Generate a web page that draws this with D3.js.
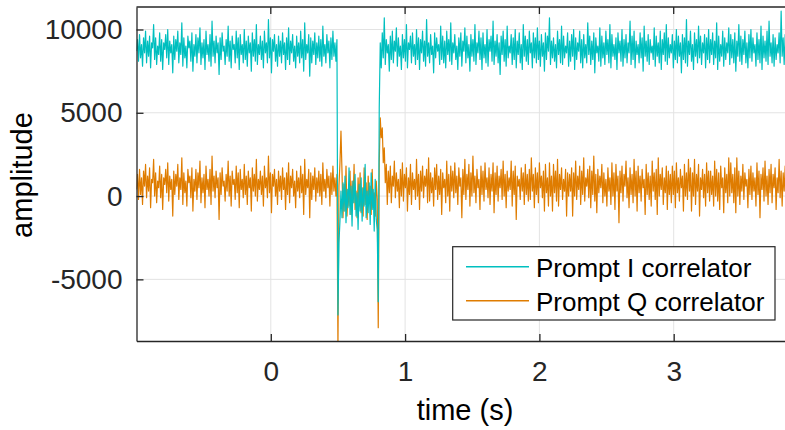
<!DOCTYPE html>
<html><head><meta charset="utf-8">
<script src="https://cdn.jsdelivr.net/npm/d3@7"></script>
<style>body{margin:0;background:#fff;}svg{display:block;}</style>
</head><body>
<svg id="c" width="785" height="430"></svg>
<script>
// sampled signal: start time and sample interval (s)
const startTime = -1;
const sampleInterval = 0.0075;
const seriesNames = ["Prompt I correlator", "Prompt Q correlator"];
const seriesColors = ["#00BFBF", "#DF7C00"];
const xTicks = [0, 1, 2, 3];
const yTicks = [-5000, 0, 5000, 10000];
const yTickLabels = ["-5000", "0", "5000", "10000"];

const promptI = [
 8700,9400,8100,9700,8300,9100,7800,9500,8600,9900,8000,9300,8400,9600,7700,9200,8900,10300,8200,9500,
 7900,9000,8500,9800,8100,9400,7600,9200,8800,9700,8300,10000,7900,9300,8600,9100,7400,9600,8200,9400,
 8700,9900,8000,9200,8500,10400,7800,9500,8300,9000,7700,9600,8900,9300,8100,9800,7500,9100,8400,9700,
 8000,9500,8600,10100,7900,9200,8300,9400,7600,9900,8500,9100,8100,9700,7800,10500,8400,9300,8000,9600,
 8600,9200,7300,9500,8200,9800,8700,9000,7900,9400,8400,10200,8100,9300,7700,9600,8800,9100,8000,9900,
 8300,9500,7600,9700,8500,9100,8000,10000,8200,9300,7800,9600,8600,9200,7500,9800,8400,9400,8100,10300,
 7900,9100,8500,9600,8200,9300,7700,9900,8600,9200,8000,10600,8300,9500,7400,9400,8700,9700,8100,9100,
 7800,9600,8400,9300,8000,9800,8500,9200,7600,9500,8200,10100,7900,9300,8600,9700,8100,9000,7700,9600,
 8400,9200,8000,9900,8300,9400,7500,10400,8200,9100,8600,9700,7200,9500,8000,9300,8500,9800,7900,9200,
 8300,9600,8100,9400,7800,10200,8400,9100,8000,9700,8600,9300,7700,9500,8200,9900,8400,9200,8100,9400,
 -7140,
 -2800,-1500,300,-1300,800,-900,1200,-1600,400,-700,1700,-1100,600,-1800,900,-400,1300,-1200,200,-2000,
 700,-900,1100,-1500,500,-600,1900,-1300,300,-1000,800,-1700,1400,-800,400,-2100,1000,-1400,-2000,
 -6340,
 5300,
 9200,7700,9800,8300,10700,7900,9400,8600,9100,7500,9600,8200,9900,8000,9300,8700,10100,7800,9500,8400,
 9000,7600,9700,8300,9400,8100,10300,7700,9200,8800,9600,8000,9800,8400,9100,7900,10000,8200,9500,7600,
 9400,8600,9900,8100,9300,7800,10600,8400,9200,8000,9700,8500,9000,7400,9800,8300,9500,8700,9100,7900,
 10200,8200,9600,8000,9300,7700,9900,8500,9400,8100,10400,7900,9200,8600,9700,8200,9000,7600,9500,8400,
 9800,7800,9300,8700,10100,8000,9600,8300,9100,7500,9700,8400,9400,8100,10300,7900,9200,8600,9900,8200,
 9500,7600,9800,8300,9100,8000,10000,7800,9400,8700,9600,8100,10500,7900,9300,8400,9700,8000,9200,7300,
 9600,8500,9900,8100,9400,7800,10200,8300,9000,8600,9700,7900,9500,8200,10000,7700,9300,8500,9800,8000,
 9100,7600,10300,8400,9600,8100,9400,7900,9900,8600,9200,7700,9800,8300,9500,8000,10100,8200,9300,7800,
 9700,8400,9200,7500,9800,8200,9600,8700,10700,7900,9300,8300,9500,8100,9100,7700,9900,8500,9400,8000,
 10200,7900,9600,8300,9000,8600,9800,7800,9300,8100,9700,8400,10000,7600,9500,8200,9200,8700,9900,8000,
 9400,7700,9700,8300,9100,8000,10400,8500,9600,7900,9300,8200,9800,7400,9500,8600,9000,8100,10100,7800,
 9600,8300,9200,7900,9900,8500,9400,8000,10300,7700,9700,8400,9100,8200,9500,7600,9800,8600,9300,8100,
 10000,7800,9400,8300,9700,8000,9200,8600,10500,7900,9600,8200,9900,7700,9300,8500,9100,8000,9800,8300,
 9500,7500,10200,8400,9300,8100,9700,7900,9400,8600,9000,8200,10100,7800,9600,8400,9200,8000,9900,7600,
 9400,8500,9800,8100,10300,7900,9500,8300,9100,8600,9700,7700,9300,8200,10000,8000,9600,8400,9200,7400,
 9700,8200,9500,8000,10600,7800,9300,8500,9900,8100,9100,7600,9800,8400,9400,8000,10200,8300,9600,7900,
 9200,8600,9700,7700,9500,8200,10000,8000,9400,8500,9800,7900,9300,8300,10400,7600,9600,8100,9100,8400,
 9900,7800,9500,8200,9200,8600,10100,7900,9700,8300,9400,8000,9800,7500,9300,8400,10300,8100,9600,7900,
 9400,8500,9900,8000,9200,7700,9700,8300,10000,8100,9500,8600,9100,7800,9800,8200,9400,8000,10200,7600,
 9600,8300,9300,8100,9900,7900,10500,8400,9200,8000,9700,7800,9500,8200,9100,8600,9800,8000,11100,8400,
 9500,7900,9700,8300,9300,8100
];

const promptQ = [
 400,1300,-200,1600,100,1100,-500,1500,600,1900,-100,1200,300,1700,-700,1000,800,2200,0,1400,
 -400,900,500,1800,-100,1300,-800,1100,700,1600,200,2000,-300,1200,400,1000,-1200,1500,100,1300,
 600,1900,-200,1100,400,2300,-500,1400,200,900,-600,1600,800,1200,-100,1700,-900,1000,300,1600,
 -200,1400,500,2100,-400,1100,200,1300,-700,1800,400,1000,0,1600,-500,2400,300,1200,-100,1500,
 500,1100,-1400,1400,100,1700,600,900,-300,1300,300,2100,0,1200,-600,1500,700,1000,-200,1800,
 200,1400,-700,1600,400,1000,-100,1900,100,1200,-500,1500,500,1100,-900,1700,300,1300,0,2200,
 -300,1000,400,1500,100,1200,-600,1800,500,1100,-100,2400,200,1400,-1000,1300,600,1600,0,1000,
 -500,1500,300,1200,-200,1700,400,1100,-800,1400,100,2000,-400,1200,500,1600,0,900,-700,1500,
 300,1100,-100,1800,200,1300,-1100,2200,100,1000,500,1600,-1300,1400,-200,1200,400,1700,-300,1100,
 200,1500,0,1300,-500,2000,300,1000,-100,1600,500,1200,-600,1400,100,1800,300,1100,0,1300,
 -9200,
 600,2000,3900,1500,-1300,700,-900,1800,-1200,400,-600,1500,-1100,900,-400,1900,-800,300,-1300,1100,
 -600,1400,-1000,500,-1200,1700,-500,800,-1400,1200,-300,600,-1100,1600,-700,200,-1200,900,-200,
 -7900,
 2000,4700,3500,4100,2000,2900,800,1900,-500,
 1500,200,1800,-400,1200,600,2100,-100,1400,300,1000,-700,1600,0,2000,-300,1300,500,1700,-900,
 1100,100,1900,-500,1400,400,1000,-200,2200,0,1300,-800,1500,300,1800,-100,1200,600,1600,-400,
 2300,-300,1400,200,1100,-600,1700,400,1900,-200,1200,100,1600,-1100,1400,500,1000,-400,2100,0,
 1300,-900,1800,300,1500,-100,2000,200,1200,-500,1700,600,1100,-1300,1600,100,2200,-200,1300,400,
 1900,-600,1400,0,2400,200,1200,-400,1600,500,1000,-800,1800,100,1500,-300,2000,400,1100,-100,
 1700,-500,1300,300,2000,-1000,1400,100,1800,-300,1200,500,1600,-200,2100,0,1300,-700,1500,300,
 1100,400,2100,-600,1500,100,1800,-1400,1200,600,1000,-200,1700,300,1400,-500,1900,100,1300,-300,
 1600,-200,2300,300,1300,-700,1700,100,1400,-400,2000,500,1200,-100,1500,-900,1900,200,1100,-600,
 2000,0,1200,-900,1900,200,1500,-300,2200,-600,1300,400,1700,-200,1000,300,1600,-1200,1400,0,
 1300,300,1700,-1200,1400,0,2100,-200,1200,400,1800,-500,1500,100,2300,-300,1100,600,1600,-100,
 1800,-700,1500,100,2400,-300,1300,-1000,1600,200,1200,500,1900,-400,1400,0,1000,-600,1700,300,
 1100,-500,2000,0,1400,-800,1900,300,1200,-1600,1500,200,1800,-300,1300,600,2100,-100,1100,-700,
 1700,100,1300,-400,2200,0,1500,-900,1800,200,1200,-300,1600,500,1000,-1100,1900,100,1400,-200,
 1200,-600,2100,300,1400,-200,1600,-1100,2300,0,1300,400,1700,-500,1100,200,1800,-800,1500,100,
 1300,-400,1800,100,1500,-700,2000,200,1100,-300,1600,500,1200,-900,1900,0,1400,-200,2200,300,
 1700,-900,1400,0,2200,-500,1300,300,1900,-1200,1100,400,1600,-100,1300,-600,2000,200,1500,-300,
 1500,100,1200,-600,2100,0,1600,-300,1400,-800,1800,500,1100,-1000,1700,200,1300,-400,2300,0,
 2000,200,1300,-400,1700,-1000,2300,0,1500,-500,1200,300,1900,-200,1400,600,1000,-700,1600,100,
 1800,-200,1400,300,1100,-600,2000,100,1500,-1300,1300,400,1700,-300,2100,0,1200,-500,1600,200,
 1900,-400,1300,500,1700,-800,1100,200,2200,-100,1500,-600,1400,300,1800,-200,1200,400
];

const svg = d3.select("#c");
const font = "'Liberation Sans', Arial, Helvetica, sans-serif";
const pLeft = 136.5, pTop = 7, pBottom = 341, pRight = 808;
const x = d3.scaleLinear().domain([-1, 4]).range([pLeft, pRight]);
const y = d3.scaleLinear().domain([-8700, 11350]).range([pBottom, pTop]);
const axisColor = "#262626";

// grid
const g = svg.append("g");
g.selectAll("line.vg").data(xTicks).join("line")
  .attr("x1", d => x(d)).attr("x2", d => x(d)).attr("y1", pTop).attr("y2", pBottom)
  .attr("stroke", "#e3e3e3").attr("stroke-width", 1);
g.selectAll("line.hg").data(yTicks).join("line")
  .attr("x1", pLeft).attr("x2", pRight).attr("y1", d => y(d)).attr("y2", d => y(d))
  .attr("stroke", "#e3e3e3").attr("stroke-width", 1);

// clip
svg.append("clipPath").attr("id", "clip").append("rect")
  .attr("x", pLeft).attr("y", pTop).attr("width", pRight - pLeft).attr("height", pBottom - pTop);

const line = d3.line().x((d, i) => x(startTime + i * sampleInterval)).y(d => y(d));
const plot = svg.append("g").attr("clip-path", "url(#clip)");
plot.append("path").datum(promptQ).attr("d", line).attr("fill", "none")
  .attr("stroke", seriesColors[1]).attr("stroke-width", 1.2).attr("stroke-linejoin", "round");
plot.append("path").datum(promptI).attr("d", line).attr("fill", "none")
  .attr("stroke", seriesColors[0]).attr("stroke-width", 1.2).attr("stroke-linejoin", "round");

// axes
const xAxis = d3.axisBottom(x).tickValues(xTicks).tickSizeInner(-7).tickSizeOuter(0).tickPadding(20).tickFormat(d3.format("d"));
const xg = svg.append("g").attr("transform", `translate(0,${pBottom})`).call(xAxis);
const yAxis = d3.axisLeft(y).tickValues(yTicks).tickSizeInner(-7).tickSizeOuter(0).tickPadding(14)
  .tickFormat(d => yTickLabels[yTicks.indexOf(d)]);
const yg = svg.append("g").attr("transform", `translate(${pLeft},0)`).call(yAxis);
[xg, yg].forEach(a => {
  a.select(".domain").attr("stroke", axisColor).attr("stroke-width", 1.3);
  a.selectAll(".tick line").attr("stroke", axisColor).attr("stroke-width", 1.3);
  a.selectAll(".tick text").attr("fill", axisColor).style("font-family", font).style("font-size", "28px");
});
svg.append("line").attr("x1", pLeft).attr("x2", pRight).attr("y1", pTop).attr("y2", pTop)
  .attr("stroke", axisColor).attr("stroke-width", 1.3);
// top ticks
svg.selectAll("line.tt").data(xTicks).join("line")
  .attr("x1", d => x(d)).attr("x2", d => x(d)).attr("y1", pTop).attr("y2", pTop + 7)
  .attr("stroke", axisColor).attr("stroke-width", 1.3);

// axis labels
svg.append("text").attr("x", 465).attr("y", 420).attr("text-anchor", "middle")
  .style("font-family", font).style("font-size", "29px").attr("fill", "#000").text("time (s)");
svg.append("text").attr("transform", "translate(32,175) rotate(-90)").attr("text-anchor", "middle")
  .style("font-family", font).style("font-size", "29px").attr("fill", "#000").text("amplitude");

// legend
const lg = svg.append("g");
lg.append("rect").attr("x", 452.7).attr("y", 246.7).attr("width", 322.3).attr("height", 73.3)
  .attr("fill", "#fff").attr("stroke", axisColor).attr("stroke-width", 1.2);
seriesNames.forEach((n, i) => {
  const cy = 266.7 + i * 34;
  lg.append("line").attr("x1", 466).attr("x2", 529).attr("y1", cy).attr("y2", cy)
    .attr("stroke", seriesColors[i]).attr("stroke-width", 1.4);
  lg.append("text").attr("x", 536).attr("y", cy + 10.5).style("font-family", font)
    .style("font-size", "26px").attr("fill", "#000").text(n);
});
</script>
</body></html>
